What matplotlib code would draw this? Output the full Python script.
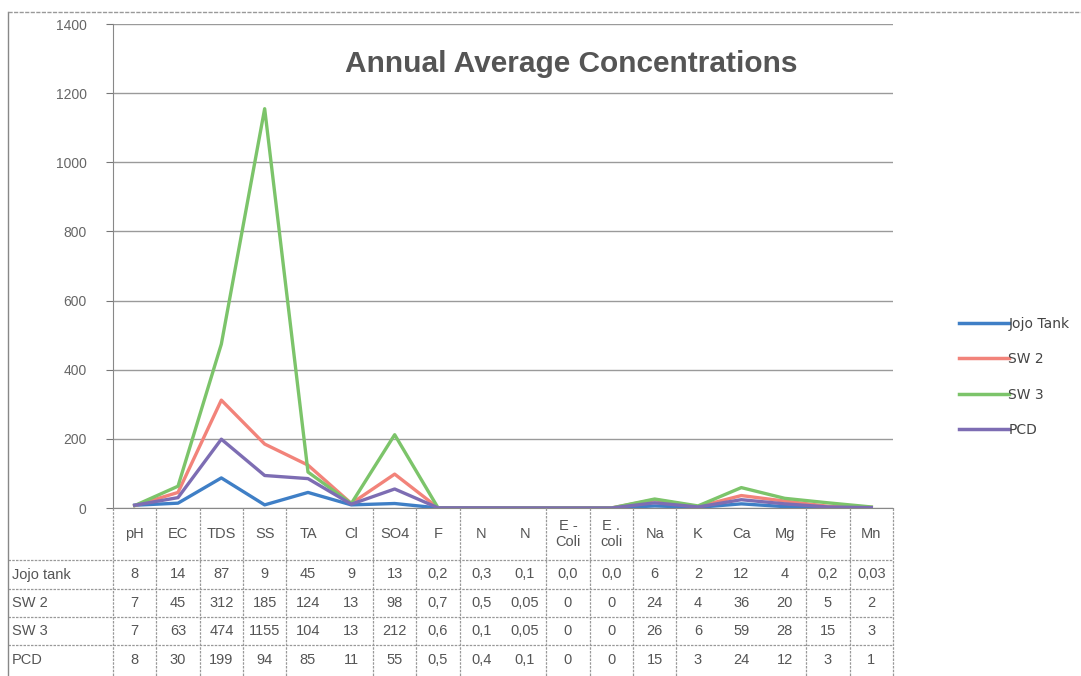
import numpy as np
import matplotlib
matplotlib.use("Agg")
from matplotlib import pyplot as plt
from matplotlib.lines import Line2D

# chart data
params = ["pH", "EC", "TDS", "SS", "TA", "Cl", "SO4", "F", "N", "N",
          "E -\nColi", "E .\ncoli", "Na", "K", "Ca", "Mg", "Fe", "Mn"]
series_names = ["Jojo Tank", "SW 2", "SW 3", "PCD"]
row_labels = ["Jojo tank", "SW 2", "SW 3", "PCD"]

jojo = [8, 14, 87, 9, 45, 9, 13, 0.2, 0.3, 0.1, 0.0, 0.0, 6, 2, 12, 4, 0.2, 0.03]
sw2 = [7, 45, 312, 185, 124, 13, 98, 0.7, 0.5, 0.05, 0, 0, 24, 4, 36, 20, 5, 2]
sw3 = [7, 63, 474, 1155, 104, 13, 212, 0.6, 0.1, 0.05, 0, 0, 26, 6, 59, 28, 15, 3]
pcd = [8, 30, 199, 94, 85, 11, 55, 0.5, 0.4, 0.1, 0, 0, 15, 3, 24, 12, 3, 1]

# table text as printed (comma decimals)
jojo_txt = ["8", "14", "87", "9", "45", "9", "13", "0,2", "0,3", "0,1", "0,0", "0,0",
            "6", "2", "12", "4", "0,2", "0,03"]
sw2_txt = ["7", "45", "312", "185", "124", "13", "98", "0,7", "0,5", "0,05", "0", "0",
           "24", "4", "36", "20", "5", "2"]
sw3_txt = ["7", "63", "474", "1155", "104", "13", "212", "0,6", "0,1", "0,05", "0", "0",
           "26", "6", "59", "28", "15", "3"]
pcd_txt = ["8", "30", "199", "94", "85", "11", "55", "0,5", "0,4", "0,1", "0", "0",
           "15", "3", "24", "12", "3", "1"]

colors = ["#3f7fc6", "#f2837a", "#7cc46a", "#7d6db3"]

W, H = 1081, 676
fig = plt.figure(figsize=(W / 100, H / 100), dpi=100)
fig.patch.set_facecolor("white")

# axes in pixel units
ax_l, ax_r, ax_t, ax_b = 113, 893, 24, 508
ax = fig.add_axes([ax_l / W, 1 - ax_b / H, (ax_r - ax_l) / W, (ax_b - ax_t) / H])

x = np.arange(len(params))
for vals, c, name in zip([jojo, sw2, sw3, pcd], colors, series_names):
    ax.plot(x, vals, color=c, lw=2.4, label=name, solid_joinstyle="round")

ax.set_xlim(-0.5, len(params) - 0.5)
ax.set_ylim(0, 1400)
ax.set_yticks(range(0, 1401, 200))
ax.set_yticklabels([str(v) for v in range(0, 1401, 200)], color="#666666", fontsize=10,
                   family="Liberation Sans")
ax.tick_params(axis="y", length=5, color="#777777", pad=14)
ax.set_xticks([])
ax.grid(axis="y", color="#9a9a9a", lw=1)
ax.set_axisbelow(True)
for s in ["top", "right"]:
    ax.spines[s].set_visible(False)
ax.spines["left"].set_color("#888888")
ax.spines["bottom"].set_color("#888888")

ax.text(0.587, 0.918, "Annual Average Concentrations", transform=ax.transAxes,
        ha="center", va="center", fontsize=21.5, color="#555555", fontweight="bold",
        family="Liberation Sans")

# legend on the right
handles = [Line2D([0], [0], color=c, lw=2.5) for c in colors]
fig.legend(handles, series_names, loc="center left", bbox_to_anchor=(946 / W, 1 - 377 / H),
           frameon=False, fontsize=10, handlelength=3.6, handletextpad=0.0,
           labelspacing=1.55, labelcolor="#444444")

# data table under the plot, columns follow the axis categories
tr = ax.transData
def col_px(i):
    return tr.transform((i, 0))[0]

edges = [col_px(i - 0.5) for i in range(len(params) + 1)]
skip_edges = [5, 9, 14, 15]  # merged-looking cells in the original table
row_y = [508, 560, 589, 617, 645, 676]
grid_kw = dict(color="#999999", lw=0.9, ls=(0, (2, 1)))

def fy(py):
    return 1 - py / H

for yy in row_y[1:-1]:
    fig.add_artist(Line2D([8 / W, edges[-1] / W], [fy(yy), fy(yy)], **grid_kw))
for k, e in enumerate(edges):
    if k in skip_edges:
        continue
    fig.add_artist(Line2D([e / W, e / W], [fy(508), fy(676)], **grid_kw))
fig.add_artist(Line2D([8 / W, 8 / W], [fy(12), fy(676)], color="#888888", lw=1))
fig.add_artist(Line2D([8 / W, W / W], [fy(12), fy(12)], color="#999999", lw=1, ls=(0, (3, 1))))

txt_kw = dict(ha="center", va="center", fontsize=10.5, color="#555555", family="Liberation Sans")
for i, p in enumerate(params):
    xc = col_px(i) / W
    fig.text(xc, fy((row_y[0] + row_y[1]) / 2), p, linespacing=1.1, **txt_kw)
for r, (lab, row) in enumerate(zip(row_labels, [jojo_txt, sw2_txt, sw3_txt, pcd_txt])):
    yc = fy((row_y[r + 1] + row_y[r + 2]) / 2)
    fig.text(12 / W, yc, lab, ha="left", va="center", fontsize=10.5, color="#555555",
             family="Liberation Sans")
    for i, t in enumerate(row):
        fig.text(col_px(i) / W, yc, t, **txt_kw)

fig.savefig("out.png", dpi=100)
